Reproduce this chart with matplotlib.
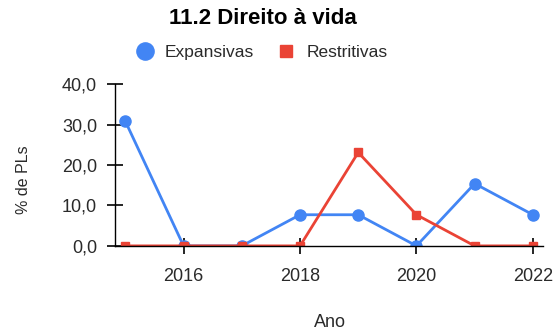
import matplotlib.pyplot as plt
from matplotlib.ticker import FuncFormatter

plt.rcParams['font.family'] = ['Liberation Sans', 'DejaVu Sans']

anos = [2015, 2016, 2017, 2018, 2019, 2020, 2021, 2022]
expansivas = [30.8, 0.0, 0.0, 7.7, 7.7, 0.0, 15.4, 7.7]
restritivas = [0.0, 0.0, 0.0, 0.0, 23.1, 7.7, 0.0, 0.0]

azul = '#4285f4'
vermelho = '#ea4335'
texto = '#2a2a2a'

fig = plt.figure(figsize=(5.55, 3.35), dpi=100)
ax = fig.add_axes([0.207, 0.266, 0.771, 0.483])

ax.plot(anos, expansivas, color=azul, lw=2, marker='o', ms=8, label='Expansivas')
ax.plot(anos, restritivas, color=vermelho, lw=2, marker='s', ms=5.5, label='Restritivas')

ax.set_xlim(2014.82, 2022.17)
ax.set_ylim(0, 40)
ax.set_xticks([2016, 2018, 2020, 2022])
ax.set_yticks([0, 10, 20, 30, 40])
ax.yaxis.set_major_formatter(FuncFormatter(lambda v, p: f'{v:.1f}'.replace('.', ',')))

for s in ['top', 'right']:
    ax.spines[s].set_visible(False)
for s in ['left', 'bottom']:
    ax.spines[s].set_linewidth(1)
    ax.spines[s].set_zorder(5)
ax.tick_params(direction='inout', length=11.5, width=1.2, labelsize=13,
               labelcolor=texto)
ax.tick_params(axis='y', pad=7)
ax.tick_params(axis='x', pad=10)

# rótulos dos eixos e título posicionados na figura
fig.text(0.043, 0.463, '% de PLs', rotation=90, fontsize=11.5, color=texto,
         ha='center', va='center')
fig.text(0.595, 0.037, 'Ano', fontsize=13, color=texto, ha='center', va='center')
fig.text(0.474, 0.946, '11.2 Direito à vida', fontsize=16, fontweight='bold',
         ha='center', va='center')

leg = fig.legend(loc='center', bbox_to_anchor=(0.472, 0.843), ncol=2, frameon=False,
                 fontsize=12.5, handlelength=1.0, columnspacing=1.35, handletextpad=0.65,
                 markerscale=1.55, labelcolor=texto)
for h in leg.legend_handles:
    h.set_linestyle('none')

fig.savefig('out.png', dpi=100)
